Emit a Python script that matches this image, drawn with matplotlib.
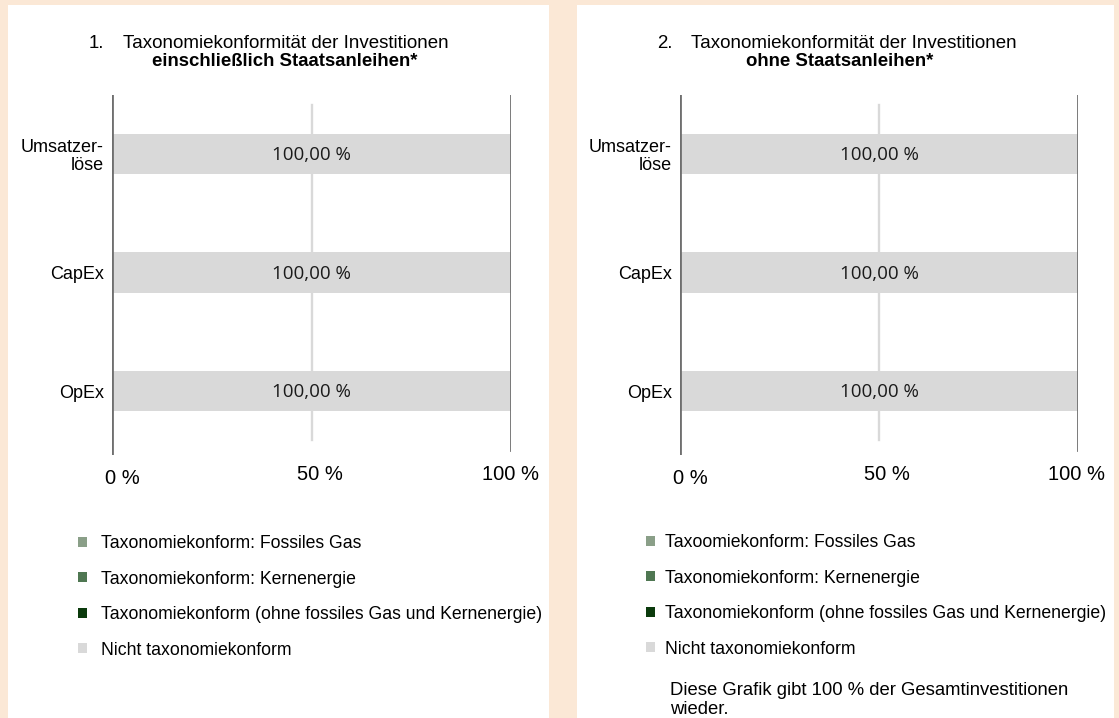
import matplotlib.pyplot as plt
from matplotlib.patches import Rectangle
from matplotlib.transforms import ScaledTranslation

plt.rcParams['font.family'] = ['Liberation Sans', 'DejaVu Sans']

# Daten
kategorien = ["Umsatzer-\nlöse", "CapEx", "OpEx"]
fossiles_gas = [0, 0, 0]
kernenergie = [0, 0, 0]
taxonomiekonform = [0, 0, 0]
nicht_konform = [100, 100, 100]
tick_werte = [0, 50, 100]
tick_labels = ["0 %", "50 %", "100 %"]

legende_1 = ["Taxonomiekonform: Fossiles Gas", "Taxonomiekonform: Kernenergie",
             "Taxonomiekonform (ohne fossiles Gas und Kernenergie)", "Nicht taxonomiekonform"]
legende_2 = ["Taxoomiekonform: Fossiles Gas", "Taxonomiekonform: Kernenergie",
             "Taxonomiekonform (ohne fossiles Gas und Kernenergie)", "Nicht taxonomiekonform"]
farben = ["#8a9f88", "#4f7752", "#0b3a0c", "#d9d9d9"]

W, H = 1119, 718
fig = plt.figure(figsize=(W / 100, H / 100), dpi=100)
fig.patch.set_facecolor("#fbe8d6")


def fx(px):
    return px / W


def fy(py):
    return 1 - py / H


# weiße Felder
for x0, x1 in [(8, 549), (577, 1114)]:
    fig.patches.append(Rectangle((fx(x0), 0), fx(x1 - x0), fy(5), transform=fig.transFigure,
                                 facecolor="white", edgecolor="none", zorder=-5))


def panel(x0, x1, nummer, titel_x, bold, bold_x, legende, leg_x, leg_y, textpad):
    ax = fig.add_axes([fx(x0), fy(455), fx(x1 - x0), (455 - 95) / H])
    ax.set_zorder(2)
    ax.set_facecolor("none")
    y = range(len(kategorien))
    links = [0, 0, 0]
    serien = [fossiles_gas, kernenergie, taxonomiekonform, nicht_konform]
    handles = []
    for werte, farbe, name in zip(serien, farben, legende):
        b = ax.barh(y, werte, left=links, height=0.34, color=farbe, label=name, zorder=2)
        handles.append(b)
        links = [l + w for l, w in zip(links, werte)]
    for i, w in enumerate(nicht_konform):
        ax.text(50, i + 0.01, f"{w:.2f} %".replace(".", ","), ha="center", va="center",
                fontsize=13.5, family=["Open Sans", "DejaVu Sans"], color="#1a1a1a", zorder=4)
    ax.set_xlim(0, 100)
    ax.set_ylim(2.54, -0.5)
    ax.axvline(0, color="#6f6f6f", lw=2.0, zorder=3)
    ax.axvline(100, ymin=0.014, color="#6f6f6f", lw=2.0, zorder=3)
    ax.axvline(50, ymin=0.042, ymax=0.972, color="#d9d9d9", lw=1.7, zorder=1)
    for s in ax.spines.values():
        s.set_visible(False)
    ax.set_yticks(list(y))
    ax.set_yticklabels(kategorien, fontsize=13, ha="right", linespacing=1.08)
    ax.set_xticks(tick_werte)
    ax.set_xticklabels(tick_labels, fontsize=14.5)
    ax.tick_params(length=0, pad=6)
    ax.tick_params(axis="x", pad=7)
    versatz = [(10, -4), (8, 0), (-1, 0)]
    for lab, (dx, dy) in zip(ax.get_xticklabels(), versatz):
        lab.set_transform(lab.get_transform() + ScaledTranslation(dx / 100, dy / 100, fig.dpi_scale_trans))

    fig.text(fx(titel_x - 34), fy(43), f"{nummer}.", fontsize=13.4, va="center", ha="left")
    fig.text(fx(titel_x), fy(43), "Taxonomiekonformität der Investitionen", fontsize=13.5,
             va="center", ha="left")
    fig.text(fx(bold_x), fy(62), bold, fontsize=13.4, weight="bold", va="center", ha="center")

    fig.legend(handles=handles, loc="upper left", bbox_to_anchor=(fx(leg_x), fy(leg_y)),
               frameon=False, fontsize=12.7, handlelength=0.5, handleheight=0.5,
               handletextpad=textpad, labelspacing=1.05, borderpad=0, borderaxespad=0)
    return ax


panel(112, 511, 1, 123, "einschließlich Staatsanleihen*", 285, legende_1, 78, 535, 0.8)
panel(680, 1078, 2, 691, "ohne Staatsanleihen*", 840, legende_2, 646, 534, 0.6)

fig.text(fx(670), fy(700), "Diese Grafik gibt 100 % der Gesamtinvestitionen\nwieder.",
         fontsize=13.3, va="center", ha="left", linespacing=1.1)

fig.savefig("out.png", dpi=100, facecolor=fig.get_facecolor())
